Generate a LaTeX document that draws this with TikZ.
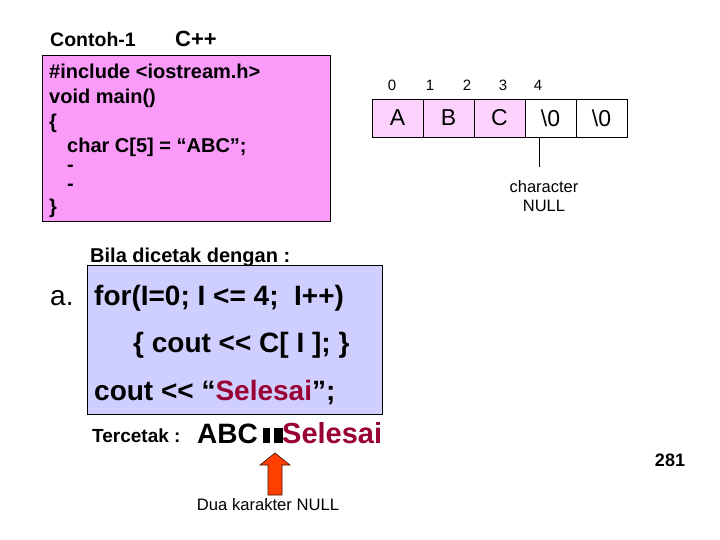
\documentclass[tikz,border=0pt]{standalone}
\usepackage{fontspec}
\setmainfont{Liberation Sans}
\usetikzlibrary{positioning,calc}
\definecolor{progpink}{RGB}{250,155,250}
\definecolor{cellpink}{RGB}{252,210,252}
\definecolor{loopblue}{RGB}{206,206,255}
\definecolor{strred}{RGB}{153,0,51}
\definecolor{arrred}{RGB}{255,64,0}
\tikzset{
  txt/.style={inner sep=0pt, anchor=base west},
  codebox/.style={draw=black, line width=1.2pt, anchor=north west, inner sep=0pt},
  codeln/.style={txt, font=\fontsize{20}{22}\selectfont\bfseries},
  bigln/.style={txt, font=\fontsize{28}{30}\selectfont\bfseries},
  cell/.style={draw=black, line width=0.8pt, minimum width=51pt, minimum height=38pt,
               inner sep=0pt, font=\fontsize{23}{24}\selectfont},
  idx/.style={inner sep=0pt, anchor=base, font=\fontsize{15}{18}\selectfont},
  nullsq/.style={fill=black, inner sep=0pt, anchor=south west, minimum height=15pt},
}
\begin{document}
\begin{tikzpicture}[x=1pt,y=-1pt]
\useasboundingbox[fill=white] (0,0) rectangle (720,540);
%---------------- program ----------------
  \node[txt, font=\fontsize{19.5}{20}\selectfont\bfseries] (title) at (50,47) {Contoh-1};
  \node[txt, font=\fontsize{22}{24}\selectfont\bfseries] (lang) at (175,47) {C++};
  \node[codebox, fill=progpink, minimum width=288pt, minimum height=166pt] (prog) at (42,55) {};
  \node[codeln] (p1) at (49,79) {\#include {<}iostream.h{>}};
  \node[codeln] (p2) at (49,104) {void main()};
  \node[codeln] (p3) at (49,129) {\{};
  \node[codeln] (p4) at (67,153) {char C[5] = “ABC”;};
  \node[codeln] (p5) at (67,172) {-};
  \node[codeln] (p6) at (67,191) {-};
  \node[codeln] (p7) at (49,214) {\}};
%---------------- array ----------------
  \foreach \i/\x in {0/392,1/430,2/467,3/503,4/538}
    \node[idx] (i\i) at (\x,91) {\i};
  \foreach \i/\c in {0/A,1/B,2/C}
    \node[cell, fill=cellpink] (c\i) at (397.5+51*\i,118) {\c};
  \foreach \i in {3,4}
    \node[cell, fill=white] (c\i) at (397.5+51*\i,118) {\textbackslash 0};
  \node[inner sep=0pt, align=center, font=\fontsize{16.5}{19}\selectfont] (nullnote) at (544,196)
       {character\\NULL};
  \coordinate (tick) at (539,167);
  \draw[line width=0.6pt] (c3.south -| tick) -- (tick);
%---------------- output ----------------
  \node[txt, font=\fontsize{20}{22}\selectfont\bfseries] (bila) at (90,262) {Bila dicetak dengan :};
  \node[codebox, fill=loopblue, minimum width=295pt, minimum height=149pt] (loop) at (87,265) {};
  \node[txt, font=\fontsize{28}{30}\selectfont] (item) at (50,305) {a.};
  \node[bigln] (q1) at (94,305) {for(I=0; I {<}= 4;\ \ I++)};
  \node[bigln] (q2) at (133,352) {\{ cout {<}{<} C[ I ]; \}};
  \node[bigln] (q3) at (94,400) {cout {<}{<} “\textcolor{strred}{Selesai}”;};
  \node[txt, font=\fontsize{19}{21}\selectfont\bfseries] (tercetak) at (92,442) {Tercetak :};
  \node[bigln] (abc) at (197,443) {ABC};
  \node[nullsq, minimum width=7pt] (n1) at (263,443) {};
  \node[nullsq, minimum width=9pt] (n2) at (274,443) {};
  \node[txt, font=\fontsize{29}{30}\selectfont\bfseries, text=strred] (sel) at (282,443) {Selesai};
  \node[inner sep=0pt, font=\fontsize{16.6}{19}\selectfont] (dua) at (268,505) {Dua karakter NULL};
  % block arrow up to the two null squares
  \coordinate (tip) at (275,453);
  \draw[fill=arrred, draw=black!70!arrred, line width=0.7pt]
    (tip) -- ++(15,12) -- ++(-8,0) -- ++(0,30) -- ++(-14,0) -- ++(0,-30) -- ++(-8,0) -- cycle;
  \node[inner sep=0pt, font=\fontsize{18}{20}\selectfont\bfseries] (page) at (670,460) {281};
\end{tikzpicture}
\end{document}
